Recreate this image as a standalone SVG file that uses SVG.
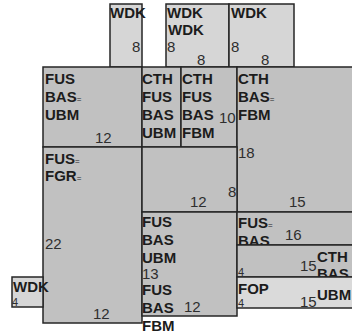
<svg xmlns="http://www.w3.org/2000/svg" width="352" height="335" viewBox="0 0 352 335">
<style>
.b{stroke:#262626;stroke-width:1.5}
.g{fill:#c1c1c1}
.l{fill:#d6d6d6}
.f{fill:#dadada}
.t{font-family:"Liberation Sans",Arial,sans-serif;font-weight:bold;font-size:15px;fill:#1c1c1c}
.n{font-family:"Liberation Sans",Arial,sans-serif;font-size:15px;fill:#2e2e2e}
.s{font-family:"Liberation Sans",Arial,sans-serif;font-size:11px;fill:#2e2e2e}
.e{font-size:8px;font-weight:normal}
</style>
<rect width="352" height="335" fill="#ffffff"/>
<g id="connectors"/>
<g id="n-wdk-a">
<rect class="b l" x="110" y="4" width="32" height="63"/>
<text class="t" x="110" y="18">WDK</text>
<text class="n" x="132" y="52">8</text>
</g>
<g id="n-wdk-b">
<rect class="b l" x="166" y="4" width="63" height="63"/>
<text class="t" x="167" y="18">WDK</text>
<text class="t" x="168" y="35">WDK</text>
<text class="n" x="167" y="52">8</text>
<text class="n" x="197" y="65">8</text>
</g>
<g id="n-wdk-c">
<rect class="b l" x="229" y="4" width="65" height="63"/>
<text class="t" x="231" y="18">WDK</text>
<text class="n" x="231" y="52">8</text>
<text class="n" x="261" y="65">8</text>
</g>
<g id="n-fus-bas-ubm">
<rect class="b g" x="43" y="67" width="99" height="80"/>
<text class="t" x="45" y="84">FUS</text>
<text class="t" x="45" y="102">BAS<tspan class="e">=</tspan></text>
<text class="t" x="45" y="120">UBM</text>
<text class="n" x="95" y="143">12</text>
</g>
<g id="n-cth-fus-bas-ubm">
<rect class="b g" x="142" y="67" width="39" height="80"/>
<text class="t" x="142" y="84">CTH</text>
<text class="t" x="142" y="102">FUS</text>
<text class="t" x="142" y="120">BAS</text>
<text class="t" x="142" y="138">UBM</text>
</g>
<g id="n-cth-fus-bas-fbm">
<rect class="b g" x="181" y="67" width="56" height="80"/>
<text class="t" x="182" y="84">CTH</text>
<text class="t" x="182" y="102">FUS</text>
<text class="t" x="182" y="120">BAS</text>
<text class="t" x="182" y="138">FBM</text>
<text class="n" x="219" y="123">10</text>
</g>
<g id="n-cth-bas-fbm">
<rect class="b g" x="237" y="67" width="125" height="145"/>
<text class="t" x="238" y="84">CTH</text>
<text class="t" x="238" y="102">BAS<tspan class="e">=</tspan></text>
<text class="t" x="238" y="120">FBM</text>
<text class="n" x="238" y="158">18</text>
<text class="n" x="289" y="207">15</text>
</g>
<g id="n-fus-fgr">
<rect class="b g" x="43" y="147" width="99" height="176"/>
<text class="t" x="45" y="164">FUS<tspan class="e">=</tspan></text>
<text class="t" x="45" y="181">FGR<tspan class="e">=</tspan></text>
<text class="n" x="45" y="249">22</text>
<text class="n" x="93" y="319">12</text>
</g>
<g id="n-mid">
<rect class="b g" x="142" y="147" width="95" height="65"/>
<text class="n" x="190" y="207">12</text>
<text class="n" x="228" y="197">8</text>
</g>
<g id="n-fus-bas-ubm-2">
<rect class="b g" x="142" y="212" width="95" height="104"/>
<text class="t" x="142" y="227">FUS</text>
<text class="t" x="142" y="245">BAS</text>
<text class="t" x="142" y="263">UBM</text>
<text class="n" x="142" y="279">13</text>
<text class="t" x="142" y="295">FUS</text>
<text class="t" x="142" y="313">BAS</text>
<text class="t" x="142" y="331">FBM</text>
<text class="n" x="184" y="312">12</text>
</g>
<g id="n-fus-bas">
<rect class="b g" x="237" y="212" width="125" height="33"/>
<text class="t" x="238" y="228">FUS<tspan class="e">=</tspan></text>
<text class="t" x="238" y="246">BAS</text>
<text class="n" x="285" y="240">16</text>
</g>
<g id="n-cth-bas">
<rect class="b g" x="237" y="245" width="125" height="32"/>
<text class="s" x="238" y="276">4</text>
<text class="n" x="300" y="271">15</text>
<text class="t" x="317" y="262">CTH</text>
<text class="t" x="317" y="279">BAS</text>
</g>
<g id="n-fop">
<rect class="b f" x="237" y="277" width="125" height="31"/>
<text class="t" x="238" y="294">FOP</text>
<text class="s" x="238" y="307">4</text>
<text class="n" x="300" y="307">15</text>
<text class="t" x="317" y="300">UBM</text>
</g>
<g id="n-wdk-d">
<rect class="b l" x="12" y="277" width="31" height="30"/>
<text class="t" x="13" y="292">WDK</text>
<text class="s" x="12" y="306">4</text>
</g>
</svg>
